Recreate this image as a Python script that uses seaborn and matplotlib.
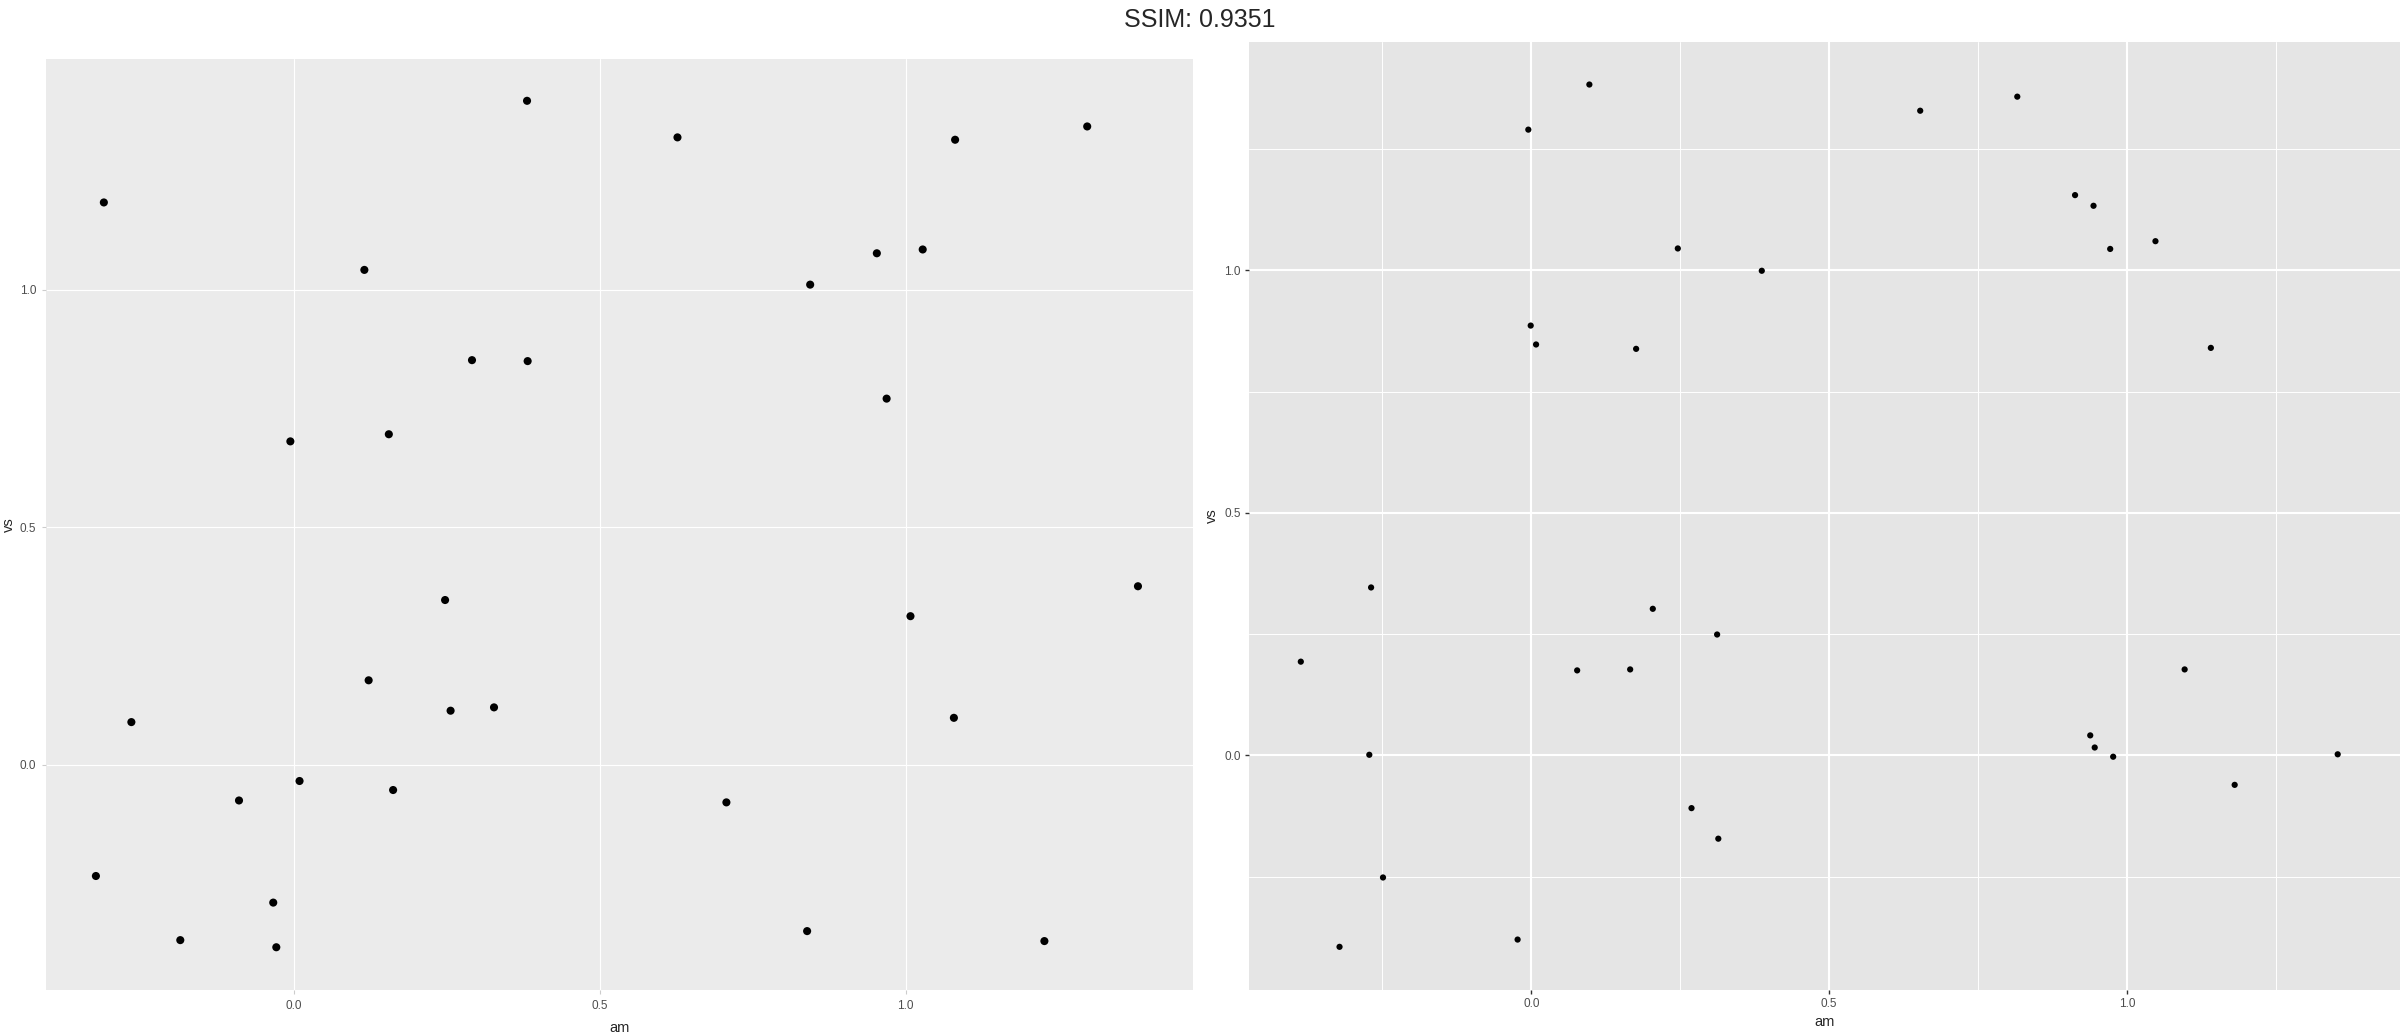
import numpy as np
import pandas as pd
import matplotlib
matplotlib.use("Agg")
import matplotlib.pyplot as plt
import seaborn as sns
from matplotlib.ticker import MultipleLocator

# valeurs (am / vs avec jitter)
left_am = [-0.311, 0.381, 0.627, 1.081, 1.297, 0.115, 0.844, 0.953, 1.028, 0.291,
           0.382, 0.969, -0.006, 0.155, 0.247, 1.380, 1.008, 0.122, 0.256, 0.327,
           -0.266, 1.079, 0.009, 0.162, -0.090, 0.707, -0.324, -0.034, -0.186, -0.029,
           0.839, 1.227]
left_vs = [1.184, 1.398, 1.321, 1.316, 1.344, 1.042, 1.011, 1.077, 1.085, 0.852,
           0.850, 0.771, 0.681, 0.696, 0.347, 0.376, 0.313, 0.178, 0.114, 0.121,
           0.090, 0.099, -0.034, -0.053, -0.075, -0.079, -0.234, -0.290, -0.369, -0.384,
           -0.350, -0.371]

right_am = [0.0975, -0.005, 0.653, 0.816, 0.913, 0.944, 0.246, 0.972, 1.048, 0.387,
            -0.001, 0.008, 0.176, 1.141, -0.269, 0.204, 0.312, -0.387, 0.077, 0.166,
            1.097, 0.9385, 0.946, -0.272, 0.977, 1.354, 1.181, 0.269, 0.314, -0.249,
            -0.322, -0.023]
right_vs = [1.383, 1.290, 1.329, 1.358, 1.155, 1.133, 1.045, 1.044, 1.060, 0.999,
            0.886, 0.847, 0.838, 0.840, 0.346, 0.302, 0.249, 0.193, 0.175, 0.177,
            0.177, 0.041, 0.016, 0.001, -0.003, 0.002, -0.061, -0.109, -0.172, -0.252,
            -0.395, -0.380]

ticks = [0.0, 0.5, 1.0]
tick_labels = ["0.0", "0.5", "1.0"]

df_left = pd.DataFrame({"am": left_am, "vs": left_vs})
df_right = pd.DataFrame({"am": right_am, "vs": right_vs})

sns.set_style("white")
plt.rcParams['font.family'] = ['Liberation Sans', 'DejaVu Sans']

fig = plt.figure(figsize=(24, 10.34), dpi=100)
W, H = 2400, 1034


def box(x0, y0, x1, y1):
    return [x0 / W, 1 - y1 / H, (x1 - x0) / W, (y1 - y0) / H]


# Panneau gauche
ax1 = fig.add_axes(box(46, 59, 1193, 990))
ax1.set_facecolor("#EBEBEB")
sns.scatterplot(data=df_left, x="am", y="vs", ax=ax1, color="black", s=34,
                edgecolor="none", zorder=3)
ax1.set_xlim(-0.4056, 1.470)
ax1.set_ylim(-0.474, 1.486)
ax1.set_xticks(ticks, tick_labels)
ax1.set_yticks(ticks, tick_labels)
ax1.grid(True, color="white", linewidth=0.8)
ax1.set_axisbelow(True)
ax1.tick_params(length=3, width=0.8, color="#CCCCCC", labelcolor="#4D4D4D",
                labelsize=8.5, pad=4, left=True, bottom=True)
for sp in ax1.spines.values():
    sp.set_visible(False)
ax1.set_xlabel("am", fontsize=10.5, labelpad=7)
ax1.set_ylabel("vs", fontsize=10.5, labelpad=3)

# Panneau droit (avec grille mineure)
ax2 = fig.add_axes(box(1249, 42, 2400, 990))
ax2.set_facecolor("#E5E5E5")
sns.scatterplot(data=df_right, x="am", y="vs", ax=ax2, color="black", s=20,
                edgecolor="none", zorder=3)
ax2.set_xlim(-0.474, 1.4586)
ax2.set_ylim(-0.484, 1.4707)
ax2.set_xticks(ticks, tick_labels)
ax2.set_yticks(ticks, tick_labels)
ax2.xaxis.set_minor_locator(MultipleLocator(0.25))
ax2.yaxis.set_minor_locator(MultipleLocator(0.25))
ax2.grid(True, which="major", color="white", linewidth=1.5)
ax2.grid(True, which="minor", color="white", linewidth=0.7)
ax2.set_axisbelow(True)
ax2.tick_params(which="major", length=3, width=1.0, color="#333333",
                labelcolor="#4D4D4D", labelsize=8.5, pad=3, left=True, bottom=True)
ax2.tick_params(which="minor", length=0)
for sp in ax2.spines.values():
    sp.set_visible(False)
ax2.set_xlabel("am", fontsize=10.5, labelpad=3)
ax2.set_ylabel("vs", fontsize=10.5, labelpad=4)

fig.text(0.5, 1 - 20 / H, "SSIM: 0.9351", ha="center", va="center", fontsize=18)

fig.savefig("out.png", dpi=100)
